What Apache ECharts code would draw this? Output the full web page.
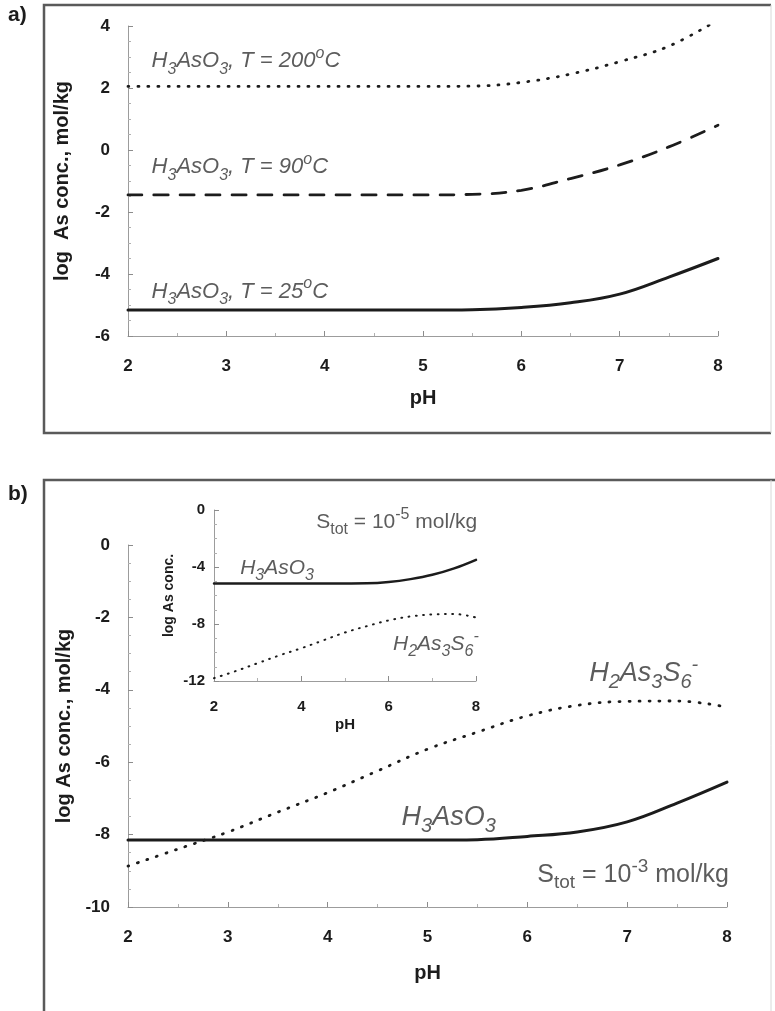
<!DOCTYPE html>
<html>
<head>
<meta charset="utf-8">
<script src="https://cdn.jsdelivr.net/npm/echarts@6/dist/echarts.min.js"></script>
<style>
  html, body { margin: 0; padding: 0; background: #ffffff; }
  #chart { width: 775px; height: 1011px; }
</style>
</head>
<body>
<div id="chart"></div>
<script>
// pH grid shared by every curve
const pH = [2, 2.5, 3, 3.5, 4, 4.5, 5, 5.5, 6, 6.5, 7, 7.5, 8];

// a) H3AsO3 solubility at three temperatures (log mol/kg)
const h3aso3T200 = [2.05, 2.05, 2.05, 2.05, 2.05, 2.05, 2.05, 2.06, 2.18, 2.45, 2.85, 3.35, 4.2];
const h3aso3T90  = [-1.45, -1.45, -1.45, -1.45, -1.45, -1.45, -1.45, -1.43, -1.3, -0.92, -0.48, 0.1, 0.8];
const h3aso3T25  = [-5.16, -5.16, -5.16, -5.16, -5.16, -5.16, -5.16, -5.15, -5.08, -4.93, -4.65, -4.1, -3.5];

// b) S_tot = 1e-3 mol/kg
const h3aso3S3   = [-8.15, -8.15, -8.15, -8.15, -8.15, -8.15, -8.15, -8.14, -8.05, -7.93, -7.65, -7.13, -6.55];
const h2as3s6S3  = [-8.87, -8.4, -7.93, -7.38, -6.84, -6.24, -5.64, -5.17, -4.72, -4.43, -4.32, -4.31, -4.48];

// b) inset, S_tot = 1e-5 mol/kg
const h3aso3S5   = [-5.15, -5.15, -5.15, -5.15, -5.15, -5.15, -5.15, -5.14, -5.05, -4.85, -4.55, -4.1, -3.5];
const h2as3s6S5  = [-11.8, -11.3, -10.75, -10.2, -9.7, -9.15, -8.6, -8.15, -7.75, -7.47, -7.33, -7.3, -7.55];

const F = '"Liberation Sans", Arial, Helvetica, sans-serif';
const INK = '#1c1c1c';
const TXT = '#333333';

const pairs = (ys) => pH.map((x, i) => [x, ys[i]]);

function chemRich(size) {
  const sub = Math.round(size * 0.74);
  return {
    t:  { fontFamily: F, fontStyle: 'italic', fontSize: size, color: TXT, lineHeight: size + 10, verticalAlign: 'middle' },
    s:  { fontFamily: F, fontStyle: 'italic', fontSize: sub, color: TXT, lineHeight: sub + 2, verticalAlign: 'bottom' },
    u:  { fontFamily: F, fontStyle: 'italic', fontSize: sub, color: TXT, lineHeight: sub + 2, verticalAlign: 'top' },
    n:  { fontFamily: F, fontSize: size, color: TXT, lineHeight: size + 10, verticalAlign: 'middle' },
    ns: { fontFamily: F, fontSize: sub, color: TXT, lineHeight: sub + 2, verticalAlign: 'bottom' },
    nu: { fontFamily: F, fontSize: sub, color: TXT, lineHeight: sub + 2, verticalAlign: 'top' }
  };
}

// a text note anchored at its left edge on a data coordinate
function note(xi, yi, pos, text, size) {
  return {
    type: 'scatter', xAxisIndex: xi, yAxisIndex: yi, symbolSize: 0, silent: true, z: 5,
    data: [pos],
    label: { show: true, position: 'right', distance: 0, formatter: text, rich: chemRich(size) }
  };
}

function valueAxis(gridIndex, min, max, interval, minorSplit, extra) {
  return Object.assign({
    type: 'value', gridIndex, min, max, interval,
    splitLine: { show: false },
    axisLine: { show: true, onZero: false, lineStyle: { color: '#9c9c9c', width: 1 } },
    axisTick: { show: true, inside: true, length: 5, lineStyle: { color: '#8c8c8c', width: 1 } },
    minorTick: { show: true, splitNumber: minorSplit, length: 3, lineStyle: { color: '#b0b0b0', width: 1 } },
    axisLabel: { color: INK, fontFamily: F, fontWeight: 'bold', fontSize: 17 },
    nameLocation: 'middle',
    nameTextStyle: { color: INK, fontFamily: F, fontWeight: 'bold', fontSize: 20 }
  }, extra || {});
}

function curve(xi, yi, ys, width, dash) {
  return {
    type: 'line', xAxisIndex: xi, yAxisIndex: yi, data: pairs(ys),
    showSymbol: false, symbol: 'none', smooth: 0.4, silent: true,
    lineStyle: { color: INK, width, type: dash, cap: 'round' }
  };
}

const chart = echarts.init(document.getElementById('chart'), null, { renderer: 'canvas' });

chart.setOption({
  animation: false,
  backgroundColor: '#ffffff',
  grid: [
    { left: 128, top: 26, width: 590, height: 310 },
    { left: 128, top: 545, width: 599, height: 362 },
    { left: 214, top: 510, width: 262, height: 171 }
  ],
  xAxis: [
    valueAxis(0, 2, 8, 1, 2, { name: 'pH', nameGap: 52, axisLabel: { color: INK, fontFamily: F, fontWeight: 'bold', fontSize: 17, margin: 22 } }),
    valueAxis(1, 2, 8, 1, 2, { name: 'pH', nameGap: 56, axisLabel: { color: INK, fontFamily: F, fontWeight: 'bold', fontSize: 17, margin: 22 } }),
    valueAxis(2, 2, 8, 2, 2, { name: 'pH', nameGap: 36,
      axisLabel: { color: INK, fontFamily: F, fontWeight: 'bold', fontSize: 15, margin: 18 },
      nameTextStyle: { color: INK, fontFamily: F, fontWeight: 'bold', fontSize: 15 } })
  ],
  yAxis: [
    valueAxis(0, -6, 4, 2, 4, { name: 'log  As conc., mol/kg', nameGap: 56, axisLabel: { color: INK, fontFamily: F, fontWeight: 'bold', fontSize: 17, margin: 18 } }),
    valueAxis(1, -10, 0, 2, 4, { name: 'log As conc., mol/kg', nameGap: 52, axisLabel: { color: INK, fontFamily: F, fontWeight: 'bold', fontSize: 17, margin: 18 } }),
    valueAxis(2, -12, 0, 4, 4, { name: 'log As conc.', nameGap: 38,
      axisLabel: { color: INK, fontFamily: F, fontWeight: 'bold', fontSize: 15, margin: 9 },
      nameTextStyle: { color: INK, fontFamily: F, fontWeight: 'bold', fontSize: 14 } })
  ],
  series: [
    curve(0, 0, h3aso3T200, 2.8, [1, 9]),
    curve(0, 0, h3aso3T90, 2.8, [14, 12]),
    curve(0, 0, h3aso3T25, 3, 'solid'),
    curve(1, 1, h2as3s6S3, 2.8, [1, 9]),
    curve(1, 1, h3aso3S3, 3, 'solid'),
    curve(2, 2, h2as3s6S5, 2, [0.8, 6.5]),
    curve(2, 2, h3aso3S5, 2.5, 'solid'),

    note(0, 0, [2.24, 2.86], '{t|H}{s|3}{t|AsO}{s|3}{t|, T = 200}{u|o}{t|C}', 22),
    note(0, 0, [2.24, -0.55], '{t|H}{s|3}{t|AsO}{s|3}{t|, T = 90}{u|o}{t|C}', 22),
    note(0, 0, [2.24, -4.58], '{t|H}{s|3}{t|AsO}{s|3}{t|, T = 25}{u|o}{t|C}', 22),

    note(1, 1, [6.62, -3.55], '{t|H}{s|2}{t|As}{s|3}{t|S}{s|6}{u|-}', 27),
    note(1, 1, [4.74, -7.54], '{t|H}{s|3}{t|AsO}{s|3}', 27),
    note(1, 1, [6.1, -9.12], '{n|S}{ns|tot}{n| = 10}{nu|-3}{n| mol/kg}', 25),

    note(2, 2, [4.34, -0.84], '{n|S}{ns|tot}{n| = 10}{nu|-5}{n| mol/kg}', 21),
    note(2, 2, [2.6, -4.07], '{t|H}{s|3}{t|AsO}{s|3}', 21),
    note(2, 2, [6.1, -9.4], '{t|H}{s|2}{t|As}{s|3}{t|S}{s|6}{u|-}', 21)
  ],
  graphic: [
    // panel frames
    { type: 'polyline', shape: { points: [[771, 5], [44, 5], [44, 433], [771, 433]] },
      style: { stroke: '#5a5a5a', lineWidth: 2.5, fill: null } },
    { type: 'line', shape: { x1: 771, y1: 5, x2: 771, y2: 433 }, style: { stroke: '#d8d8d8', lineWidth: 1 } },
    { type: 'polyline', shape: { points: [[775, 480], [44, 480], [44, 1011]] },
      style: { stroke: '#5a5a5a', lineWidth: 2.5, fill: null } },
    { type: 'line', shape: { x1: 771, y1: 480, x2: 771, y2: 1011 }, style: { stroke: '#d8d8d8', lineWidth: 1 } },
    // panel letters
    { type: 'text', left: 8, top: 5, style: { text: 'a)', font: 'bold 21px ' + F, fill: INK } },
    { type: 'text', left: 8, top: 484, style: { text: 'b)', font: 'bold 21px ' + F, fill: INK } }
  ]
});
</script>
</body>
</html>
